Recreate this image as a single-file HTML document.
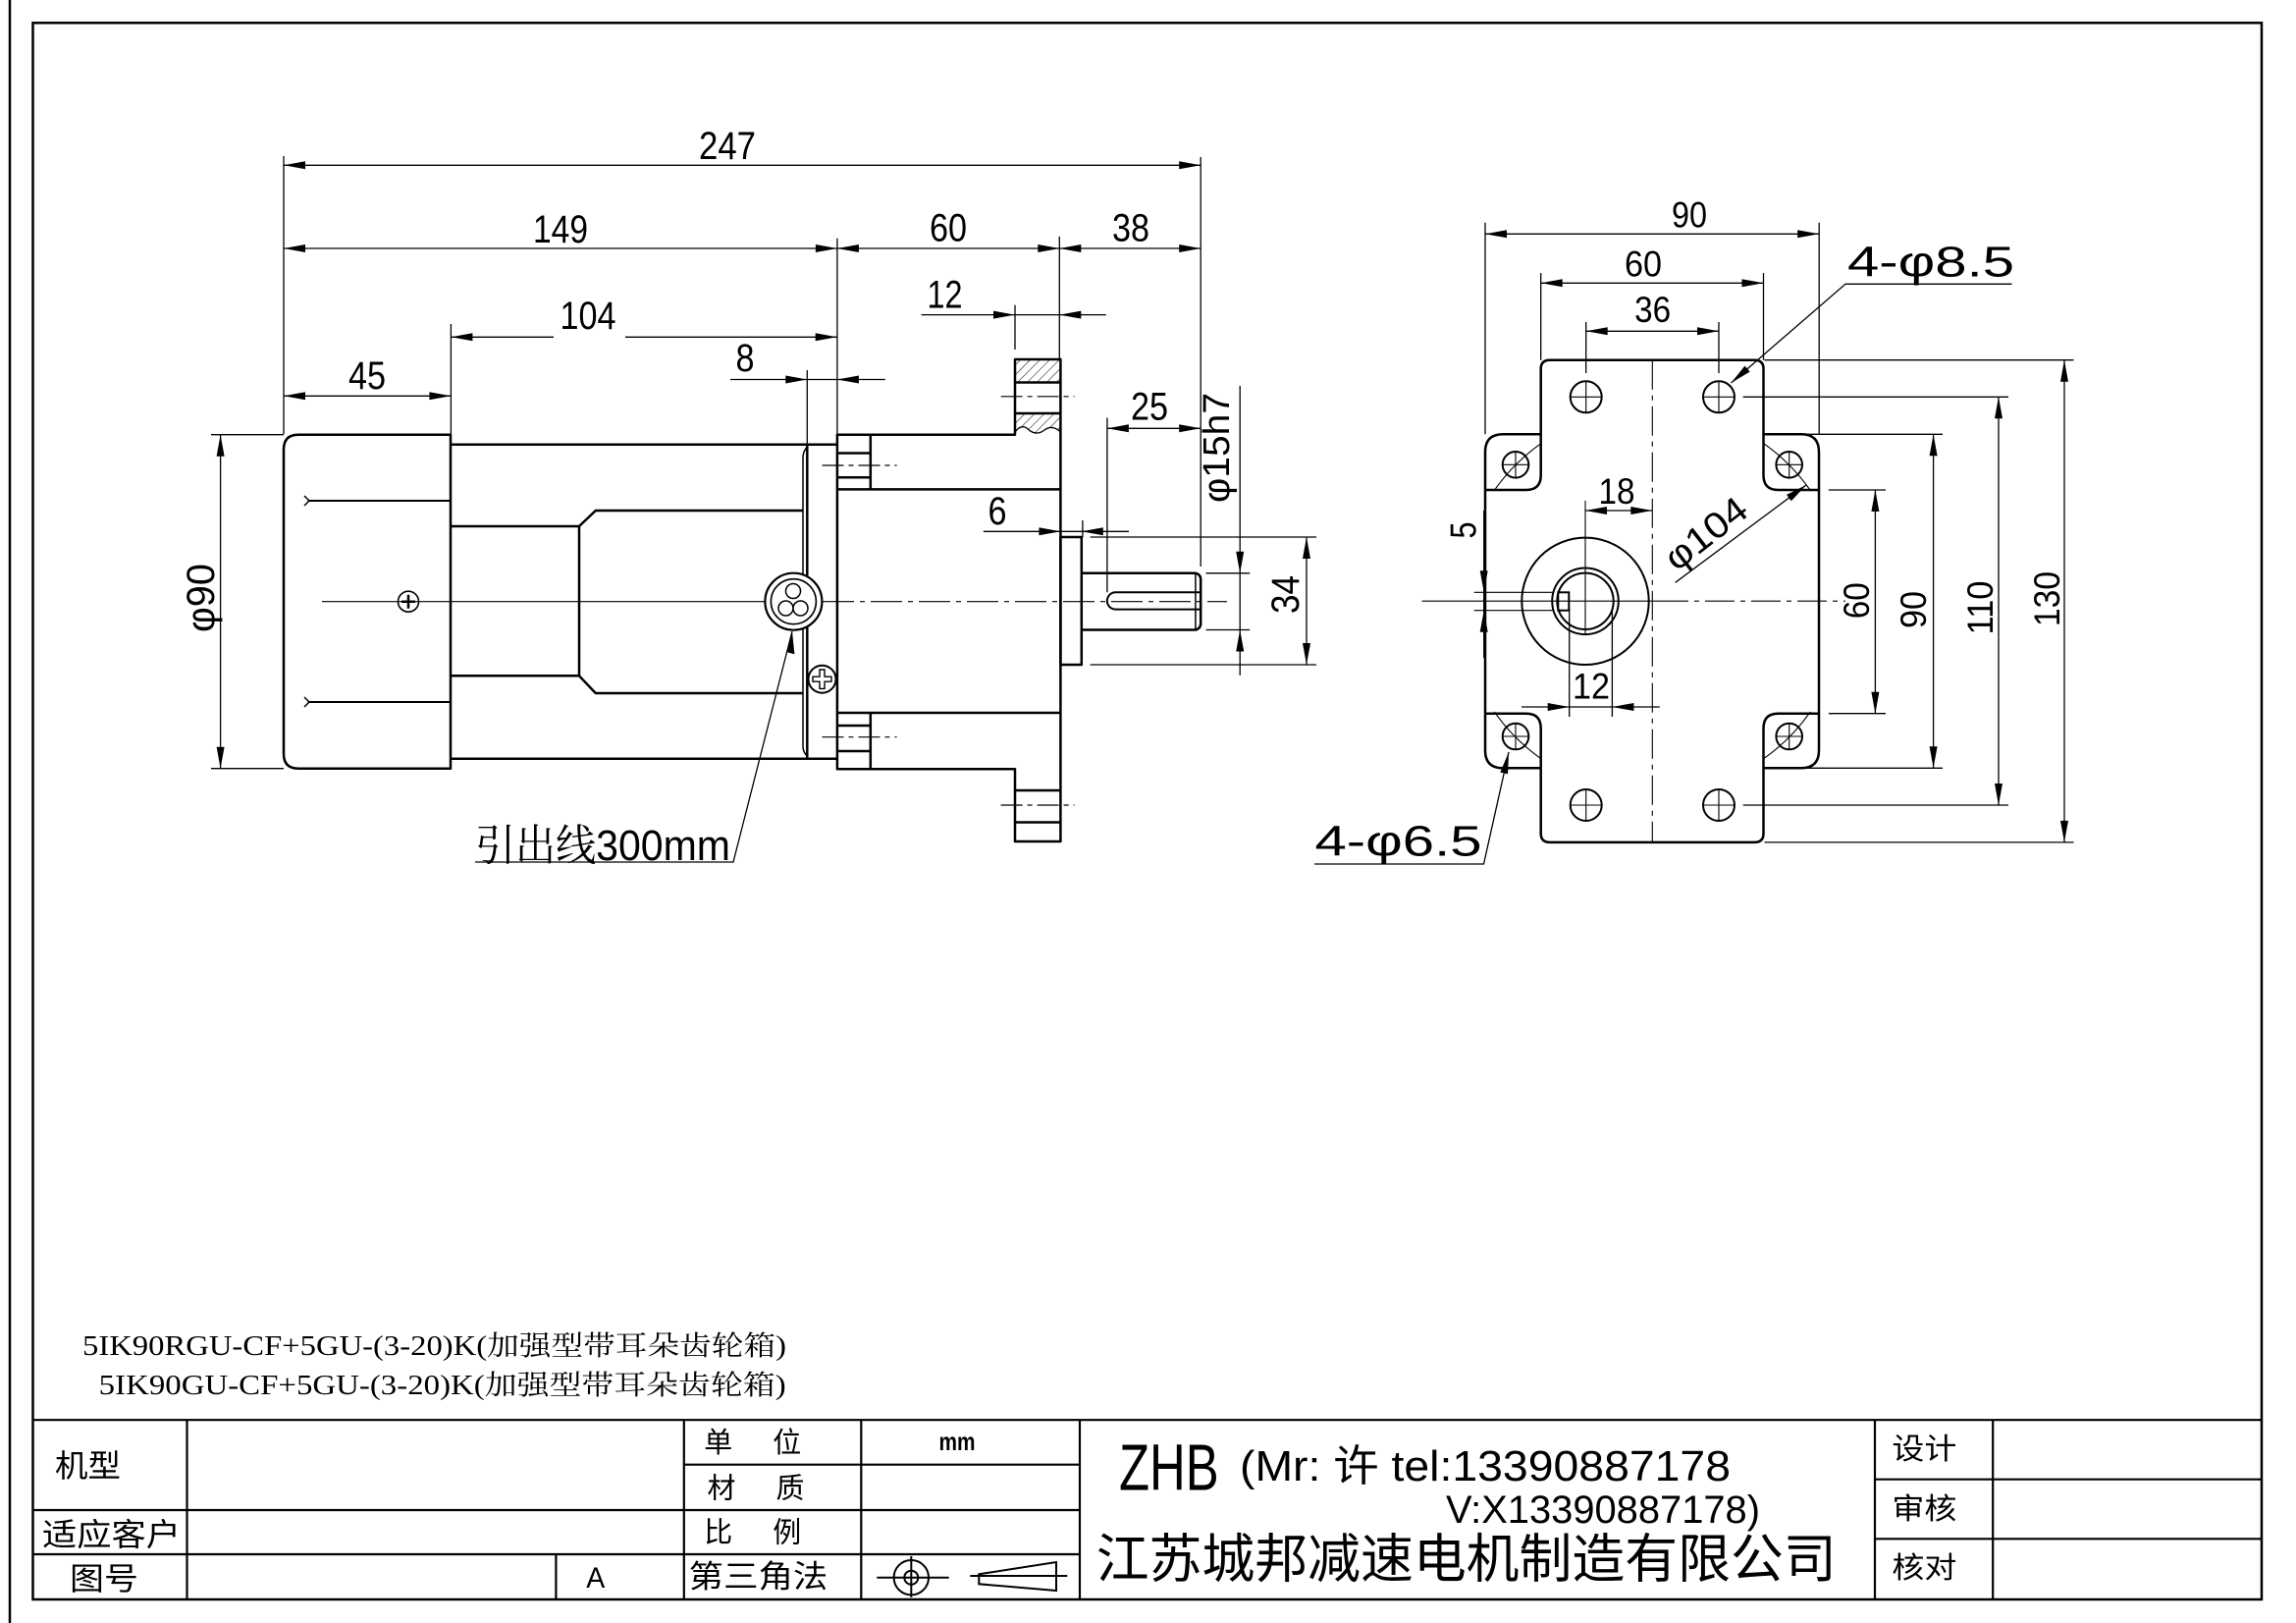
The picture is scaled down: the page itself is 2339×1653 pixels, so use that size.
<!DOCTYPE html>
<html><head><meta charset="utf-8"><style>
html,body{margin:0;padding:0;background:#fff;}
svg{display:block}
text{font-family:"Liberation Sans","Noto Sans CJK SC",sans-serif;fill:#000}
.sf{font-family:"Liberation Serif","Noto Serif CJK SC",serif}
.cj{font-family:"Liberation Serif","Noto Serif CJK SC",serif}
.ld{font-family:"Liberation Sans","Noto Serif CJK SC",sans-serif}
</style></head><body>
<svg width="2339" height="1653" viewBox="0 0 2339 1653" xmlns="http://www.w3.org/2000/svg">
<defs>
<pattern id="h" width="7" height="7" patternUnits="userSpaceOnUse" patternTransform="rotate(45)"><line x1="0" y1="0" x2="0" y2="7" stroke="#000" stroke-width="1"/></pattern>
</defs>
<rect width="2339" height="1653" fill="#fff"/>

<!-- page frame -->
<line x1="10" y1="0" x2="10" y2="1653" stroke="#000" stroke-width="2.5"/>
<rect x="33.5" y="23.3" width="2270.5" height="1605.7" fill="none" stroke="#000" stroke-width="2.5"/>

<!-- ================= SIDE VIEW ================= -->
<g fill="none" stroke="#000" stroke-width="2.5" stroke-linejoin="round">
  <path d="M459,442.7 H304 Q289,442.7 289,457.7 V767.7 Q289,782.7 304,782.7 H459 Z"/>
  <path d="M459,452.7 H852.9 M459,772.7 H852.9"/>
  <path d="M822.3,452.7 V772.7"/>
  <path d="M459,536 H590 L606.8,520 H818 M459,688.3 H590 L606.8,706 H818 M590,536 V688.3"/>
  <path d="M852.9,442.8 H1034 V366 H1080.4 V857 H1034 V783.3 H852.9 Z"/>
  <path d="M852.9,498.4 H1080.4 M852.9,726 H1080.4"/>
  <path d="M886.8,442.8 V498.4 M852.9,461.5 H886.8 M852.9,486.2 H886.8"/>
  <path d="M886.8,726 V783.3 M852.9,739 H886.8 M852.9,765 H886.8"/>
  <path d="M1034,389.5 H1080.4 M1034,421 H1080.4 M1034,805 H1080.4 M1034,837.5 H1080.4"/>
  <rect x="1080.4" y="547" width="21.4" height="130"/>
  <path d="M1101.8,583.8 H1218 Q1223.2,585 1223.2,590 V635 Q1223.2,640 1218,641.5 H1101.8"/>
  <path d="M1223.2,603.3 H1136.5 A8.65,8.65 0 0 0 1136.5,620.6 H1223.2" stroke-width="2"/>
</g>
<g fill="none" stroke="#000" stroke-width="1.5">
  <path d="M822.3,455 Q818,460 818,466 V760 Q818,766 822.3,770"/>
  <path d="M313.6,510 H459 M313.6,715 H459" stroke-width="2"/>
  <path d="M310,505 L315,510 L310,515 M310,710 L315,715 L310,720"/>
  <path d="M1217.9,583.8 V641.5"/>
</g>
<rect x="1034" y="366" width="46.4" height="23.5" fill="url(#h)"/>
<path d="M1034,421 H1080.4 V440 Q1072,432 1064,438 Q1055,445 1046,436 Q1040,432 1034,440 Z" fill="url(#h)"/>
<path d="M1034,440 Q1040,432 1046,436 Q1055,445 1064,438 Q1072,432 1080.4,440" fill="none" stroke="#000" stroke-width="1.3"/>
<g fill="none" stroke="#000" stroke-width="1.2">
  <path d="M328,612.7 H779"/>
  <path d="M838,612.7 H1250" stroke-dasharray="32 6 5 6"/>
  <path d="M837.5,474 H913.6 M837.5,750.7 H913.6 M1019.6,403.8 H1094.6 M1019.6,820 H1094.6" stroke-dasharray="22 5 5 5"/>
</g>
<g fill="none" stroke="#000">
  <circle cx="416" cy="612.7" r="10.5" stroke-width="1.6"/>
  <path d="M409,612.7 H423 M416,605.7 V619.7" stroke-width="2.5"/>
</g>
<g fill="#fff" stroke="#000">
  <circle cx="808.4" cy="612.7" r="29" stroke-width="2.2"/>
  <circle cx="808.4" cy="612.7" r="23" stroke-width="1.6"/>
  <circle cx="808" cy="602" r="7.5" stroke-width="1.5"/>
  <circle cx="800.5" cy="619.5" r="7.5" stroke-width="1.5"/>
  <circle cx="815.5" cy="619.5" r="7.5" stroke-width="1.5"/>
</g>
<g fill="#fff" stroke="#000">
  <circle cx="837.5" cy="691.7" r="14" stroke-width="2"/>
  <path d="M835,682 H840 V689.2 H847 V694.2 H840 V701.4 H835 V694.2 H828 V689.2 H835 Z" stroke-width="1.4"/>
</g>

<g fill="none" stroke="#000" stroke-width="1.3">
  <path d="M289,159 V442 M1223.2,160 V577 M852.9,242.7 V442.8 M1079.3,241 V366 M1034,310.6 V356 M459.4,330 V442.7 M822.3,377 V452"/>
  <path d="M289,168.3 H1223.2"/>
  <path d="M289,253 H1223.2"/>
  <path d="M459.4,343.3 H564 M637,343.3 H852.7"/>
  <path d="M289,403.3 H459.4"/>
  <path d="M744,386.5 H901.8"/>
  <path d="M938.6,320.6 H1126.8"/>
  <path d="M1127.9,436.3 H1223.2 M1127.9,425.5 V603.3"/>
  <path d="M1001.8,541.3 H1150 M1102.9,530 V547"/>
  <path d="M1263.2,393 V687.8 M1228.6,583.8 H1273.2 M1228.6,641.5 H1273.2"/>
  <path d="M1331,547 V677 M1110.7,547 H1341 M1110.7,677 H1341"/>
  <path d="M224.6,442.7 V782.7 M215,442.7 H289 M215,782.7 H289"/>
  <path d="M484,878 H747 L807,643"/>
</g>
<g fill="#000" stroke="none">
  <polygon points="289,168.3 311,164.3 311,172.3"/><polygon points="1223.2,168.3 1201.2,164.3 1201.2,172.3"/>
  <polygon points="289,253 311,249 311,257"/><polygon points="852.9,253 830.9,249 830.9,257"/>
  <polygon points="852.9,253 874.9,249 874.9,257"/><polygon points="1079.3,253 1057.3,249 1057.3,257"/>
  <polygon points="1079.3,253 1101.3,249 1101.3,257"/><polygon points="1223.2,253 1201.2,249 1201.2,257"/>
  <polygon points="459.4,343.3 481.4,339.3 481.4,347.3"/><polygon points="852.7,343.3 830.7,339.3 830.7,347.3"/>
  <polygon points="289,403.3 311,399.3 311,407.3"/><polygon points="459.4,403.3 437.4,399.3 437.4,407.3"/>
  <polygon points="822.3,386.5 800.3,382.5 800.3,390.5"/><polygon points="852.9,386.5 874.9,382.5 874.9,390.5"/>
  <polygon points="1034,320.6 1012,316.6 1012,324.6"/><polygon points="1079.3,320.6 1101.3,316.6 1101.3,324.6"/>
  <polygon points="1127.9,436.3 1149.9,432.3 1149.9,440.3"/><polygon points="1223.2,436.3 1201.2,432.3 1201.2,440.3"/>
  <polygon points="1080.4,541.3 1058.4,537.3 1058.4,545.3"/><polygon points="1101.8,541.3 1123.8,537.3 1123.8,545.3"/>
  <polygon points="1263.2,583.8 1259.2,561.8 1267.2,561.8"/><polygon points="1263.2,641.5 1259.2,663.5 1267.2,663.5"/>
  <polygon points="1331,547 1327,569 1335,569"/><polygon points="1331,677 1327,655 1335,655"/>
  <polygon points="224.6,442.7 220.6,464.7 228.6,464.7"/><polygon points="224.6,782.7 220.6,760.7 228.6,760.7"/>
  <polygon points="807,643 801.6,664.3 809.4,666.3"/>
</g>
<g font-size="40" text-anchor="middle">
  <text x="741" y="162" textLength="58" lengthAdjust="spacingAndGlyphs">247</text>
  <text x="571" y="247" textLength="56" lengthAdjust="spacingAndGlyphs">149</text>
  <text x="966" y="245.5" textLength="38" lengthAdjust="spacingAndGlyphs">60</text>
  <text x="1152" y="245.5" textLength="38" lengthAdjust="spacingAndGlyphs">38</text>
  <text x="599" y="335" textLength="57" lengthAdjust="spacingAndGlyphs">104</text>
  <text x="374" y="396" textLength="38" lengthAdjust="spacingAndGlyphs">45</text>
  <text x="759" y="378" textLength="19" lengthAdjust="spacingAndGlyphs">8</text>
  <text x="962.5" y="313.6" textLength="36" lengthAdjust="spacingAndGlyphs">12</text>
  <text x="1171" y="427.6" textLength="38" lengthAdjust="spacingAndGlyphs">25</text>
  <text x="1016" y="534" textLength="19" lengthAdjust="spacingAndGlyphs">6</text>
  <text transform="translate(1251.8,456) rotate(-90)" font-size="38" textLength="112" lengthAdjust="spacingAndGlyphs">φ15h7</text>
  <text transform="translate(1323.2,605.5) rotate(-90)" textLength="39" lengthAdjust="spacingAndGlyphs">34</text>
  <text transform="translate(218,609) rotate(-90)" textLength="70" lengthAdjust="spacingAndGlyphs">φ90</text>
</g>
<text class="ld" x="484" y="876" font-size="44" textLength="260" lengthAdjust="spacingAndGlyphs">引出线300mm</text>

<!-- ================= FRONT VIEW ================= -->
<g fill="none" stroke="#000" stroke-width="2.5" stroke-linejoin="round">
  <path d="M1569.7,375.7 Q1569.7,366.7 1578.7,366.7 H1787.5 Q1796.5,366.7 1796.5,375.7 V442.3 H1835 Q1853,442.3 1853,460.3 V764.3 Q1853,782.3 1835,782.3 H1796.5 V848.9 Q1796.5,857.9 1787.5,857.9 H1578.7 Q1569.7,857.9 1569.7,848.9 V782.3 H1531 Q1513,782.3 1513,764.3 V460.3 Q1513,442.3 1531,442.3 H1569.7 Z"/>
  <path d="M1569.7,442.3 V484 Q1569.7,499 1554.7,499 H1513"/>
  <path d="M1796.5,442.3 V484 Q1796.5,499 1811.5,499 H1853"/>
  <path d="M1513,726.7 H1554.7 Q1569.7,726.7 1569.7,741.7 V782.3"/>
  <path d="M1853,726.7 H1811.5 Q1796.5,726.7 1796.5,741.7 V782.3"/>
</g>
<g fill="none" stroke="#000" stroke-width="2">
  <circle cx="1615.7" cy="404.3" r="16"/><circle cx="1751" cy="404.3" r="16"/>
  <circle cx="1615.7" cy="820" r="16"/><circle cx="1751" cy="820" r="16"/>
  <circle cx="1544" cy="473.3" r="13.3"/><circle cx="1822.7" cy="473.3" r="13.3"/>
  <circle cx="1544" cy="750" r="13.3"/><circle cx="1822.7" cy="750" r="13.3"/>
  <circle cx="1615" cy="612.3" r="64.7"/>
  <circle cx="1615" cy="612.3" r="33.8"/>
  <circle cx="1615" cy="612.3" r="28.7"/>
  <rect x="1587.3" y="603.3" width="11" height="18.4"/>
</g>
<g fill="none" stroke="#000" stroke-width="1.1">
  <path d="M1599.7,404.3 H1631.7 M1615.7,388.3 V420.3 M1735,404.3 H1767 M1751,388.3 V420.3"/>
  <path d="M1599.7,820 H1631.7 M1615.7,804 V836 M1735,820 H1767 M1751,804 V836"/>
  <path d="M1530.7,473.3 H1557.3 M1544,460 V486.6 M1809.4,473.3 H1836 M1822.7,460 V486.6"/>
  <path d="M1530.7,750 H1557.3 M1544,736.7 V763.3 M1809.4,750 H1836 M1822.7,736.7 V763.3"/>
  <path d="M1796,451.2 A196.5,196.5 0 0 1 1844.3,499.5"/>
  <path d="M1522.3,499.5 A196.5,196.5 0 0 1 1570.6,451.2"/>
  <path d="M1570.6,773.2 A196.5,196.5 0 0 1 1522.3,724.9"/>
  <path d="M1844.3,724.9 A196.5,196.5 0 0 1 1796,773.2"/>
  <path d="M1448.5,612.2 H1690"/>
  <path d="M1690,612.2 H1880" stroke-dasharray="30 6 5 6"/>
  <path d="M1683.3,366.7 V857.9" stroke-dasharray="30 6 5 6"/>
  <path d="M1615,510 V646"/>
  <path d="M1501.7,603.3 H1581.8 M1501.7,621.7 H1581.8"/>
</g>
<g fill="none" stroke="#000" stroke-width="1.3">
  <path d="M1513,226.7 V442.3 M1853.2,226.7 V442.3"/>
  <path d="M1569.7,278 V366.7 M1796.5,278 V366.7"/>
  <path d="M1615.7,328 V380 M1751,328 V380"/>
  <path d="M1598.7,620 V730 M1642.4,620 V730"/>
  <path d="M1797.5,366.7 H2112.5 M1775.7,404.3 H2046 M1838.7,442.3 H1979 M1862.9,499 H1921 M1862.9,726.7 H1921 M1838.7,782.3 H1979 M1775.7,820 H2046 M1797.5,857.9 H2112.5"/>
  <path d="M1513,238.3 H1853.2"/>
  <path d="M1569.7,288.3 H1796.5"/>
  <path d="M1615.7,337.3 H1751"/>
  <path d="M1615,520 H1683.3"/>
  <path d="M1550,720 H1690.8"/>
  <path d="M1511.7,520 V670"/>
  <path d="M1910.4,499 V726.7"/>
  <path d="M1969.6,442.3 V782.3"/>
  <path d="M2036,404.3 V820"/>
  <path d="M2103,366.7 V857.9"/>
  <path d="M2049.5,289.3 H1880 L1763.5,390"/>
  <path d="M1339,880 H1511.5 L1537,766"/>
  <path d="M1706.7,593.3 L1840,494"/>
</g>
<g fill="#000" stroke="none">
  <polygon points="1513,238.3 1535,234.3 1535,242.3"/><polygon points="1853.2,238.3 1831.2,234.3 1831.2,242.3"/>
  <polygon points="1569.7,288.3 1591.7,284.3 1591.7,292.3"/><polygon points="1796.5,288.3 1774.5,284.3 1774.5,292.3"/>
  <polygon points="1615.7,337.3 1637.7,333.3 1637.7,341.3"/><polygon points="1751,337.3 1729,333.3 1729,341.3"/>
  <polygon points="1615,520 1637,516 1637,524"/><polygon points="1683.3,520 1661.3,516 1661.3,524"/>
  <polygon points="1598.7,720 1576.7,716 1576.7,724"/><polygon points="1642.4,720 1664.4,716 1664.4,724"/>
  <polygon points="1511.7,603.3 1507.7,581.3 1515.7,581.3"/><polygon points="1511.7,621.7 1507.7,643.7 1515.7,643.7"/>
  <polygon points="1910.4,499 1906.4,521 1914.4,521"/><polygon points="1910.4,726.7 1906.4,704.7 1914.4,704.7"/>
  <polygon points="1969.6,442.3 1965.6,464.3 1973.6,464.3"/><polygon points="1969.6,782.3 1965.6,760.3 1973.6,760.3"/>
  <polygon points="2036,404.3 2032,426.3 2040,426.3"/><polygon points="2036,820 2032,798 2040,798"/>
  <polygon points="2103,366.7 2099,388.7 2107,388.7"/><polygon points="2103,857.9 2099,835.9 2107,835.9"/>
  <polygon points="1763.5,390 1782.7,378.6 1777.5,372.6"/>
  <polygon points="1537,766 1536.1,788.4 1528.3,786.6"/>
  <polygon points="1840,494 1824.8,510.3 1820,503.9"/>
</g>
<g font-size="37" text-anchor="middle">
  <text x="1721" y="231.7" textLength="36" lengthAdjust="spacingAndGlyphs">90</text>
  <text x="1674" y="281.7" textLength="38" lengthAdjust="spacingAndGlyphs">60</text>
  <text x="1683.6" y="328" textLength="37" lengthAdjust="spacingAndGlyphs">36</text>
  <text x="1647" y="513" textLength="37" lengthAdjust="spacingAndGlyphs">18</text>
  <text x="1621" y="711.7" textLength="38" lengthAdjust="spacingAndGlyphs">12</text>
  <text transform="translate(1503.3,540) rotate(-90)" textLength="17" lengthAdjust="spacingAndGlyphs">5</text>
  <text transform="translate(1904,611.7) rotate(-90)" textLength="37" lengthAdjust="spacingAndGlyphs">60</text>
  <text transform="translate(1962,621) rotate(-90)" textLength="38" lengthAdjust="spacingAndGlyphs">90</text>
  <text transform="translate(2030,619) rotate(-90)" textLength="55" lengthAdjust="spacingAndGlyphs">110</text>
  <text transform="translate(2098,610) rotate(-90)" textLength="56" lengthAdjust="spacingAndGlyphs">130</text>
  <text transform="translate(1745.6,553.2) rotate(-38)" textLength="96" lengthAdjust="spacingAndGlyphs">φ104</text>
</g>
<text x="1882" y="281.7" font-size="44" textLength="170" lengthAdjust="spacingAndGlyphs">4-φ8.5</text>
<text x="1339.5" y="871.7" font-size="44" textLength="170" lengthAdjust="spacingAndGlyphs">4-φ6.5</text>

<!-- ================= MODEL TEXT ================= -->
<text class="sf" x="84" y="1380" font-size="28" textLength="717" lengthAdjust="spacingAndGlyphs">5IK90RGU-CF+5GU-(3-20)K(加强型带耳朵齿轮箱)</text>
<text class="sf" x="100.7" y="1420" font-size="28" textLength="700" lengthAdjust="spacingAndGlyphs">5IK90GU-CF+5GU-(3-20)K(加强型带耳朵齿轮箱)</text>

<!-- ================= TITLE BLOCK ================= -->
<g fill="none" stroke="#000" stroke-width="2.2">
  <path d="M33.5,1446.2 H2304"/>
  <path d="M33.5,1538 H1100 M33.5,1583 H1100 M696.8,1491.7 H1100"/>
  <path d="M1910,1506.7 H2304 M1910,1567.3 H2304"/>
  <path d="M190.5,1446.2 V1629 M566.4,1583 V1629 M696.8,1446.2 V1629 M877.3,1446.2 V1629 M1100,1446.2 V1629 M1910,1446.2 V1629 M2030.2,1446.2 V1629"/>
</g>
<g fill="none" stroke="#000" stroke-width="2">
  <circle cx="928.3" cy="1606.7" r="17.7"/>
  <circle cx="928.3" cy="1606.7" r="7"/>
  <path d="M893.3,1606.7 H966.7 M928.3,1585 V1626.7"/>
  <path d="M997.3,1603.3 L1076,1591 V1620 L997.3,1613.3 Z"/>
  <path d="M988.3,1605 H1087.3"/>
</g>
<g class="cj">
  <text x="56" y="1504" font-size="32" textLength="67" lengthAdjust="spacingAndGlyphs">机型</text>
  <text x="43" y="1574" font-size="32" textLength="141" lengthAdjust="spacingAndGlyphs">适应客户</text>
  <text x="71" y="1619" font-size="32" textLength="70" lengthAdjust="spacingAndGlyphs">图号</text>
  <g font-size="29" text-anchor="middle">
    <text x="731.7" y="1479">单</text><text x="801.7" y="1479">位</text>
    <text x="735" y="1525.6">材</text><text x="805" y="1525.6">质</text>
    <text x="731.7" y="1570.6">比</text><text x="801.7" y="1570.6">例</text>
  </g>
  <text x="701.7" y="1616.5" font-size="32" textLength="141.6" lengthAdjust="spacingAndGlyphs">第三角法</text>
  <g font-size="30" text-anchor="middle">
    <text x="1960.4" y="1486" textLength="66" lengthAdjust="spacingAndGlyphs">设计</text>
    <text x="1960.4" y="1547" textLength="66" lengthAdjust="spacingAndGlyphs">审核</text>
    <text x="1960.4" y="1607" textLength="66" lengthAdjust="spacingAndGlyphs">核对</text>
  </g>
  <text x="1116.7" y="1606.5" font-size="54" textLength="754" lengthAdjust="spacingAndGlyphs">江苏城邦减速电机制造有限公司</text>
</g>
<text x="606.8" y="1617" font-size="30" text-anchor="middle" textLength="19" lengthAdjust="spacingAndGlyphs">A</text>
<text x="975" y="1477" font-size="26" font-weight="bold" text-anchor="middle" textLength="37" lengthAdjust="spacingAndGlyphs">mm</text>
<text x="1140" y="1517.3" font-size="67" textLength="101.7" lengthAdjust="spacingAndGlyphs">ZHB</text>
<text x="1263" y="1508" font-size="44" textLength="500" lengthAdjust="spacingAndGlyphs">(Mr: 许 tel:13390887178</text>
<text x="1473" y="1551" font-size="40" textLength="320" lengthAdjust="spacingAndGlyphs">V:X13390887178)</text>
</svg>
</body></html>
